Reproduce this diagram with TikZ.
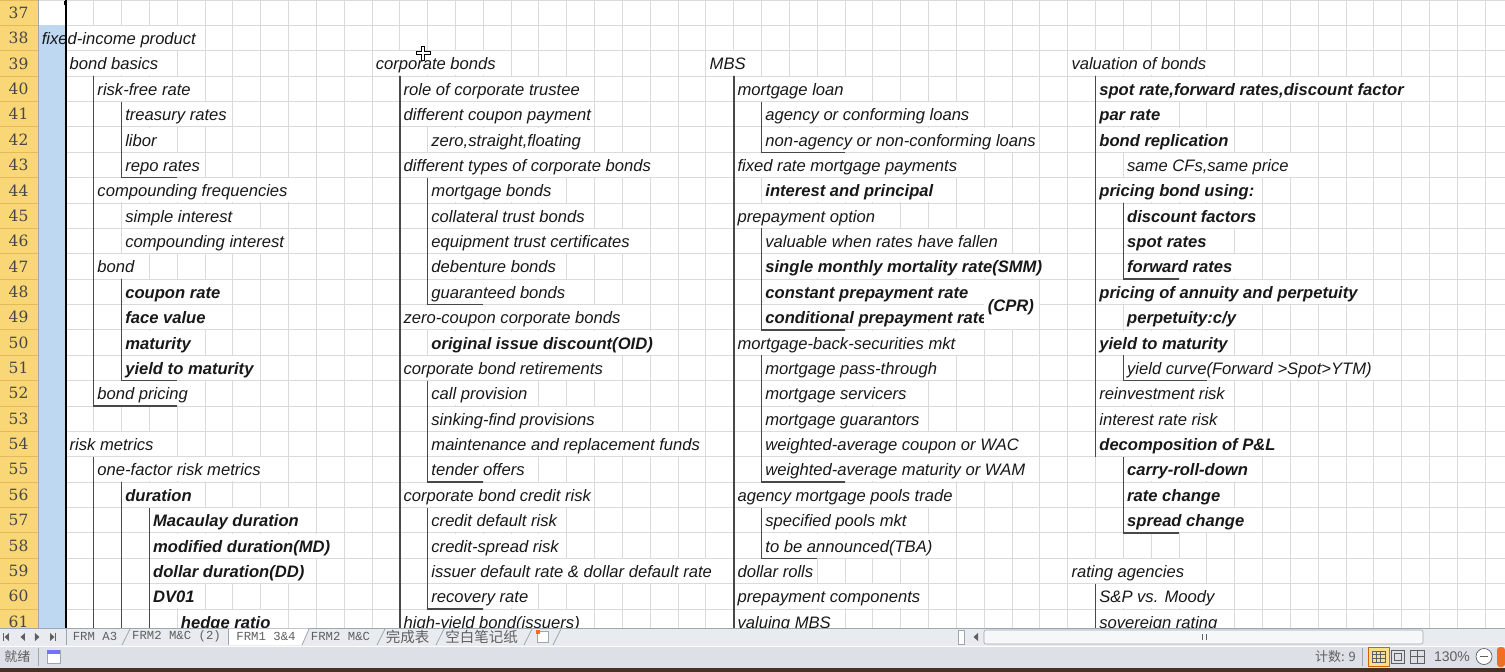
\documentclass[tikz,border=0pt]{standalone}
\usepackage{fontspec}
\setmainfont{Liberation Sans}
\newfontfamily\cjk{Noto Sans CJK SC}
\newfontfamily\numfont{DejaVu Serif}
\newfontfamily\tabfont{Liberation Mono}
\definecolor{hdryellow}{RGB}{249,214,118}
\definecolor{hdrline}{RGB}{226,186,92}
\definecolor{selblue}{RGB}{190,216,242}
\definecolor{gridgray}{RGB}{216,218,220}
\definecolor{treegray}{RGB}{72,72,72}
\definecolor{celltext}{RGB}{24,24,24}
\definecolor{tabbg}{RGB}{232,235,239}
\definecolor{statbg}{RGB}{221,225,231}
\definecolor{uigray}{RGB}{160,166,174}
\definecolor{uitext}{RGB}{95,95,95}
\definecolor{taskbar}{RGB}{72,48,38}
\definecolor{viewon}{RGB}{250,224,140}
\definecolor{imeorange}{RGB}{240,110,40}

\begin{document}
\begin{tikzpicture}[x=27.83pt, y=-25.375pt,
  cell/.style={anchor=west, inner xsep=2.5pt, inner ysep=3pt, text height=15.5pt, text depth=2.5pt, fill=white, text=celltext, font=\fontsize{16.6}{18}\selectfont\itshape},
  bcell/.style={cell, font=\fontsize{16.6}{18}\selectfont\bfseries\itshape},
  rownum/.style={inner sep=0pt, text=black!72, font=\numfont\fontsize{15.5}{17}\selectfont},
  tree/.style={draw=treegray, line width=1.5pt},
  tablabel/.style={inner sep=0pt, text=uitext, font=\tabfont\fontsize{12.3}{14}\selectfont},
  cjklabel/.style={inner sep=0pt, text=uitext, font=\cjk\fontsize{13}{15}\selectfont},
  px/.style={x=1pt, y=-1pt, xshift=-38pt}]

\useasboundingbox (-38pt,0pt) rectangle (1467pt,-672pt);
\fill[white] (-38pt,0pt) rectangle (1467pt,-672pt);

\draw[gridgray, line width=0.9pt, xstep=27.83pt, ystep=25.375pt] (0,24.75) grid (52.72,0);
\fill[selblue] (0,1) rectangle (0.97,24.75);

\fill[hdryellow] (-1.3654,0) rectangle (0,24.75);
\draw[hdrline, line width=0.9pt, xstep=100pt, ystep=25.375pt] (-1.3654,24.75) grid (0,0);
\draw[uigray, line width=0.9pt] (0,0) -- (0,24.75);
\node[rownum] (h37) at (-0.7,0.5) {37};
\node[rownum] (h38) at (-0.7,1.5) {38};
\node[rownum] (h39) at (-0.7,2.5) {39};
\node[rownum] (h40) at (-0.7,3.5) {40};
\node[rownum] (h41) at (-0.7,4.5) {41};
\node[rownum] (h42) at (-0.7,5.5) {42};
\node[rownum] (h43) at (-0.7,6.5) {43};
\node[rownum] (h44) at (-0.7,7.5) {44};
\node[rownum] (h45) at (-0.7,8.5) {45};
\node[rownum] (h46) at (-0.7,9.5) {46};
\node[rownum] (h47) at (-0.7,10.5) {47};
\node[rownum] (h48) at (-0.7,11.5) {48};
\node[rownum] (h49) at (-0.7,12.5) {49};
\node[rownum] (h50) at (-0.7,13.5) {50};
\node[rownum] (h51) at (-0.7,14.5) {51};
\node[rownum] (h52) at (-0.7,15.5) {52};
\node[rownum] (h53) at (-0.7,16.5) {53};
\node[rownum] (h54) at (-0.7,17.5) {54};
\node[rownum] (h55) at (-0.7,18.5) {55};
\node[rownum] (h56) at (-0.7,19.5) {56};
\node[rownum] (h57) at (-0.7,20.5) {57};
\node[rownum] (h58) at (-0.7,21.5) {58};
\node[rownum] (h59) at (-0.7,22.5) {59};
\node[rownum] (h60) at (-0.7,23.5) {60};
\node[rownum] (h61) at (-0.7,24.5) {61};

\fill[white] (1.03,1.04) rectangle (5.97,1.96);
\node[cell, fill=none] (L38) at (0.04,1.5) {fixed-income product};
\node[cell] (L39) at (1.04,2.5) {bond basics};
\node[cell] (L40) at (2.04,3.5) {risk-free rate};
\node[cell] (L41) at (3.04,4.5) {treasury rates};
\node[cell] (L42) at (3.04,5.5) {libor};
\node[cell] (L43) at (3.04,6.5) {repo rates};
\node[cell] (L44) at (2.04,7.5) {compounding frequencies};
\node[cell] (L45) at (3.04,8.5) {simple interest};
\node[cell] (L46) at (3.04,9.5) {compounding interest};
\node[cell] (L47) at (2.04,10.5) {bond};
\node[bcell] (L48) at (3.04,11.5) {coupon rate};
\node[bcell] (L49) at (3.04,12.5) {face value};
\node[bcell] (L50) at (3.04,13.5) {maturity};
\node[bcell] (L51) at (3.04,14.5) {yield to maturity};
\node[cell] (L52) at (2.04,15.5) {bond pricing};
\node[cell] (L54) at (1.04,17.5) {risk metrics};
\node[cell] (L55) at (2.04,18.5) {one-factor risk metrics};
\node[bcell] (L56) at (3.04,19.5) {duration};
\node[bcell] (L57) at (4.04,20.5) {Macaulay duration};
\node[bcell] (L58) at (4.04,21.5) {modified duration(MD)};
\node[bcell] (L59) at (4.04,22.5) {dollar duration(DD)};
\node[bcell] (L60) at (4.04,23.5) {DV01};
\node[bcell] (L61) at (5.04,24.5) {hedge ratio};

\node[cell] (C39) at (12.04,2.5) {corporate bonds};
\node[cell] (C40) at (13.04,3.5) {role of corporate trustee};
\node[cell] (C41) at (13.04,4.5) {different coupon payment};
\node[cell] (C42) at (14.04,5.5) {zero,straight,floating};
\node[cell] (C43) at (13.04,6.5) {different types of corporate bonds};
\node[cell] (C44) at (14.04,7.5) {mortgage bonds};
\node[cell] (C45) at (14.04,8.5) {collateral trust bonds};
\node[cell] (C46) at (14.04,9.5) {equipment trust certificates};
\node[cell] (C47) at (14.04,10.5) {debenture bonds};
\node[cell] (C48) at (14.04,11.5) {guaranteed bonds};
\node[cell] (C49) at (13.04,12.5) {zero-coupon corporate bonds};
\node[bcell] (C50) at (14.04,13.5) {original issue discount(OID)};
\node[cell] (C51) at (13.04,14.5) {corporate bond retirements};
\node[cell] (C52) at (14.04,15.5) {call provision};
\node[cell] (C53) at (14.04,16.5) {sinking-find provisions};
\node[cell] (C54) at (14.04,17.5) {maintenance and replacement funds};
\node[cell] (C55) at (14.04,18.5) {tender offers};
\node[cell] (C56) at (13.04,19.5) {corporate bond credit risk};
\node[cell] (C57) at (14.04,20.5) {credit default risk};
\node[cell] (C58) at (14.04,21.5) {credit-spread risk};
\node[cell] (C59) at (14.04,22.5) {issuer default rate \& dollar default rate};
\node[cell] (C60) at (14.04,23.5) {recovery rate};
\node[cell] (C61) at (13.04,24.5) {high-yield bond(issuers)};

\node[cell] (M39) at (24.04,2.5) {MBS};
\node[cell] (M40) at (25.04,3.5) {mortgage loan};
\node[cell] (M41) at (26.04,4.5) {agency or conforming loans};
\node[cell] (M42) at (26.04,5.5) {non-agency or non-conforming loans};
\node[cell] (M43) at (25.04,6.5) {fixed rate mortgage payments};
\node[bcell] (M44) at (26.04,7.5) {interest and principal};
\node[cell] (M45) at (25.04,8.5) {prepayment option};
\node[cell] (M46) at (26.04,9.5) {valuable when rates have fallen};
\node[bcell] (M47) at (26.04,10.5) {single monthly mortality rate(SMM)};
\node[bcell] (M48) at (26.04,11.5) {constant prepayment rate};
\node[bcell] (M49) at (26.04,12.5) {conditional prepayment rate};
\node[cell] (M50) at (25.04,13.5) {mortgage-back-securities mkt};
\node[cell] (M51) at (26.04,14.5) {mortgage pass-through};
\node[cell] (M52) at (26.04,15.5) {mortgage servicers};
\node[cell] (M53) at (26.04,16.5) {mortgage guarantors};
\node[cell] (M54) at (26.04,17.5) {weighted-average coupon or WAC};
\node[cell] (M55) at (26.04,18.5) {weighted-average maturity or WAM};
\node[cell] (M56) at (25.04,19.5) {agency mortgage pools trade};
\node[cell] (M57) at (26.04,20.5) {specified pools mkt};
\node[cell] (M58) at (26.04,21.5) {to be announced(TBA)};
\node[cell] (M59) at (25.04,22.5) {dollar rolls};
\node[cell] (M60) at (25.04,23.5) {prepayment components};
\node[cell] (M61) at (25.04,24.5) {valuing MBS};

\node[cell] (V39) at (37.04,2.5) {valuation of bonds};
\node[bcell] (V40) at (38.04,3.5) {spot rate,forward rates,discount factor};
\node[bcell] (V41) at (38.04,4.5) {par rate};
\node[bcell] (V42) at (38.04,5.5) {bond replication};
\node[cell] (V43) at (39.04,6.5) {same CFs,same price};
\node[bcell] (V44) at (38.04,7.5) {pricing bond using:};
\node[bcell] (V45) at (39.04,8.5) {discount factors};
\node[bcell] (V46) at (39.04,9.5) {spot rates};
\node[bcell] (V47) at (39.04,10.5) {forward rates};
\node[bcell] (V48) at (38.04,11.5) {pricing of annuity and perpetuity};
\node[bcell] (V49) at (39.04,12.5) {perpetuity:c/y};
\node[bcell] (V50) at (38.04,13.5) {yield to maturity};
\node[cell] (V51) at (39.04,14.5) {yield curve(Forward >Spot>YTM)};
\node[cell] (V52) at (38.04,15.5) {reinvestment risk};
\node[cell] (V53) at (38.04,16.5) {interest rate risk};
\node[bcell] (V54) at (38.04,17.5) {decomposition of P\&L};
\node[bcell] (V55) at (39.04,18.5) {carry-roll-down};
\node[bcell] (V56) at (39.04,19.5) {rate change};
\node[bcell] (V57) at (39.04,20.5) {spread change};
\node[cell] (V59) at (37.04,22.5) {rating agencies};
\node[cell] (V60) at (38.04,23.5) {S\&P vs. Moody};
\node[cell] (V61) at (38.04,24.5) {sovereign rating};

\draw[tree] (2,3) -- (2,16) -- (5,16);
\draw[tree] (3,4) -- (3,7) -- (5,7);
\draw[tree] (3,11) -- (3,15) -- (5,15);
\draw[tree] (2,18) -- (2,24.75);
\draw[tree] (3,19) -- (3,24.75);
\draw[tree] (4,20) -- (4,24.75);

\draw[tree] (13,3) -- (13,24.75);
\draw[tree] (14,7) -- (14,12) -- (16,12);
\draw[tree] (14,15) -- (14,19) -- (16,19);
\draw[tree] (14,20) -- (14,24) -- (16,24);

\draw[tree] (25,3) -- (25,24.75);
\draw[tree] (26,4) -- (26,6) -- (29,6);
\draw[tree] (26,9) -- (26,13) -- (29,13);
\draw[tree] (26,14) -- (26,19) -- (29,19);
\draw[tree] (26,20) -- (26,22) -- (28,22);

\draw[tree] (38,3) -- (38,18);
\draw[tree] (39,8) -- (39,11) -- (41,11);
\draw[tree] (39,14) -- (39,15) -- (42,15);
\draw[tree] (39,18) -- (39,21) -- (41,21);
\draw[tree] (38,23) -- (38,24.75);

\draw[black, line width=2.5pt] (1,0) -- (1,24.75);
\fill[black] (0.95,0.04) rectangle (1.06,0.2);

\fill[white] (34.0,11.04) rectangle (35.96,12.96);
\node[bcell, fill=none, anchor=center] (cpr) at (34.96,12.02) {(CPR)};

\begin{scope}[px]
\filldraw[fill=white, draw=black, line width=0.6pt] (421.5,46) -- (424.5,46) -- (424.5,51.5) -- (430,51.5) -- (430,54.5) -- (424.5,54.5) -- (424.5,60) -- (421.5,60) -- (421.5,54.5) -- (416,54.5) -- (416,51.5) -- (421.5,51.5) -- cycle;

\fill[tabbg] (0,628) rectangle (1505,646);
\draw[uigray, line width=0.8pt] (0,628) -- (1505,628);
\fill[uitext] (3,633) rectangle (4,641);
\fill[uitext] (9,633) -- (9,641) -- (4.5,637) -- cycle;
\fill[uitext] (25,633) -- (25,641) -- (20.5,637) -- cycle;
\fill[uitext] (35,633) -- (35,641) -- (39.5,637) -- cycle;
\fill[uitext] (50,633) -- (50,641) -- (54.5,637) -- cycle;
\fill[uitext] (55,633) rectangle (56,641);
\fill[white] (228,628.5) -- (228,645) -- (302,645) -- (309,628.5) -- cycle;
\draw[uigray, line width=0.8pt] (66,629) -- (66,645);
\draw[uigray, line width=0.8pt] (122,645) -- (130,629);
\draw[uigray, line width=0.8pt] (228,629) -- (228,645);
\draw[uigray, line width=0.8pt] (302,645) -- (309,629);
\draw[uigray, line width=0.8pt] (377,645) -- (385,629);
\draw[uigray, line width=0.8pt] (436,645) -- (444,629);
\draw[uigray, line width=0.8pt] (524,645) -- (532,629);
\draw[uigray, line width=0.8pt] (553,645) -- (561,629);
\node[tablabel] (t1) at (95,636.5) {FRM A3};
\node[tablabel] (t2) at (176.5,636.5) {FRM2 M\&C (2)};
\node[tablabel] (t3) at (266,636.5) {FRM1 3\&4};
\node[tablabel] (t4) at (340.5,636.5) {FRM2 M\&C};
\node[cjklabel, font=\cjk\fontsize{14.5}{16}\selectfont] (t5) at (407.5,636.5) {完成表};
\node[cjklabel, font=\cjk\fontsize{14.5}{16}\selectfont] (t6) at (481.5,636.5) {空白笔记纸};
\filldraw[fill=white, draw=uigray, line width=0.6pt] (537,631) rectangle (548,642);
\fill[imeorange] (536,630) rectangle (540,634);

\filldraw[fill=white, draw=uigray, line width=0.6pt] (958,630) rectangle (964,644);
\fill[uitext] (978,633) -- (978,641) -- (973.5,637) -- cycle;
\filldraw[fill=white!60!tabbg, draw=uigray, line width=0.6pt, rounded corners=2pt] (984,630) rectangle (1423,644);
\draw[uitext, line width=0.6pt] (1202,634) -- (1202,640) (1206,634) -- (1206,640);

\fill[statbg] (0,646) rectangle (1505,668);
\draw[white, line width=0.8pt] (0,646) -- (1505,646);
\node[cjklabel] (ready) at (17.5,656.5) {就绪};
\draw[uigray, line width=0.8pt] (38,648) -- (38,666);
\filldraw[fill=white, draw=uigray, line width=0.6pt] (47,650) rectangle (60,663);
\fill[blue!55] (47,650) rectangle (60,653.5);
\node[cjklabel] (count) at (1335.5,656.5) {计数: 9};
\draw[uigray, line width=0.8pt] (1362,648) -- (1362,666);
\filldraw[fill=viewon, draw=orange!80!black, line width=0.6pt] (1368,647) rectangle (1389,666);
\draw[uitext, line width=0.6pt] (1372,651) rectangle (1385,662) (1372,654.7) -- (1385,654.7) (1372,658.4) -- (1385,658.4) (1376.3,651) -- (1376.3,662) (1380.6,651) -- (1380.6,662);
\draw[uitext, line width=0.6pt] (1391,650) rectangle (1404,663) (1394,653) rectangle (1401,660);
\draw[uitext, line width=0.6pt] (1410,650) rectangle (1424,663) (1417,650) -- (1417,663) (1410,656.5) -- (1424,656.5);
\node[inner sep=0pt, text=uitext, font=\fontsize{14}{16}\selectfont] (zoom) at (1452,656.5) {130\%};
\filldraw[fill=white, draw=uitext, line width=0.7pt] (1484,656.5) circle (8);
\draw[uitext, line width=1pt] (1480,656.5) -- (1488,656.5);
\fill[imeorange, rounded corners=3pt] (1497,647) rectangle (1505,667);
\fill[taskbar] (0,668) rectangle (1505,672);
\end{scope}
\end{tikzpicture}
\end{document}
